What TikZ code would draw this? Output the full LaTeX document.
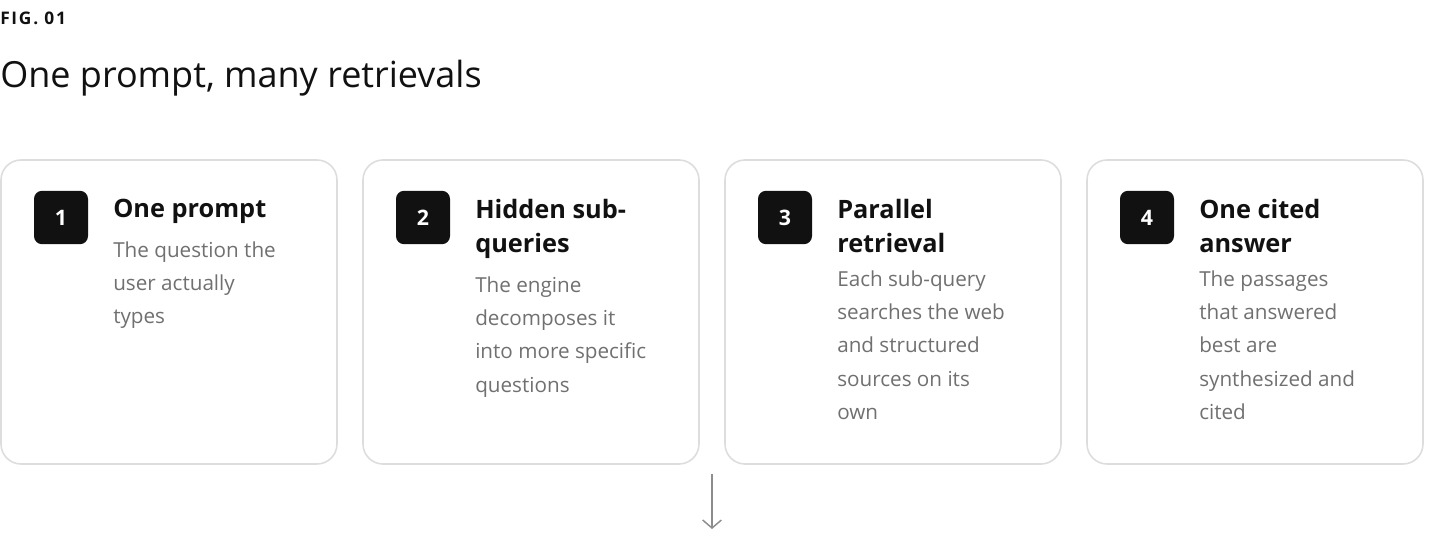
\documentclass[tikz,border=0pt]{standalone}
\usepackage{fontspec}
\setmainfont{Open Sans}
\usetikzlibrary{arrows.meta, positioning}
\definecolor{cardline}{HTML}{DDDDDD}
\definecolor{bodygray}{HTML}{707070}
\definecolor{inkblack}{HTML}{111111}
\begin{document}
\begin{tikzpicture}[x=0.75pt, y=-0.75pt]
    \tikzstyle{card} = [draw=cardline, line width=1.2pt, rounded corners=15pt]
    \tikzstyle{badge} = [fill=inkblack, rounded corners=6pt, minimum width=40.5pt, minimum height=40pt, text=white, font=\fontsize{16}{16}\selectfont\bfseries, inner sep=0pt]
    \tikzstyle{title} = [anchor=north west, align=left, inner sep=0pt, text=inkblack, font=\fontsize{19}{25.5}\selectfont\bfseries]
    \tikzstyle{body} = [anchor=north west, align=left, inner sep=0pt, text=bodygray, font=\fontsize{15.5}{25}\selectfont]
    \useasboundingbox (0,0) rectangle (1440,552);

    \node [anchor=west, inner sep=0pt, text=inkblack, font=\fontsize{13}{13}\selectfont\bfseries\addfontfeature{LetterSpace=10}] (fig) at (0,18) {FIG. 01};
    \node [anchor=west, inner sep=0pt, text=inkblack, font=\fontsize{27}{30}\selectfont] (head) at (0,78) {One prompt, many retrievals};

    \foreach \i/\x/\t/\b in {
        1/1/{One prompt}/{The question the\\user actually\\types},
        2/363/{Hidden sub-\\queries}/{The engine\\decomposes it\\into more specific\\questions},
        3/725/{Parallel\\retrieval}/{Each sub-query\\searches the web\\and structured\\sources on its\\own},
        4/1087/{One cited\\answer}/{The passages\\that answered\\best are\\synthesized and\\cited}} {
        \draw [card] (\x,160) rectangle ++(336,304);
        \node [badge] (b\i) at (\x+60,217.5) {\i};
        \node [title] (t\i) at (\x+112,199) {\t};
        \node [body, below=13pt of t\i.south west, anchor=north west] (d\i) {\b};
    }

    \coordinate (top) at (712,474);
    \coordinate (end) at (712,529);
    \draw [bodygray!80, line width=1.1pt, -{Straight Barb[length=6pt, width=14pt]}] (top) -- (end);
\end{tikzpicture}
\end{document}
